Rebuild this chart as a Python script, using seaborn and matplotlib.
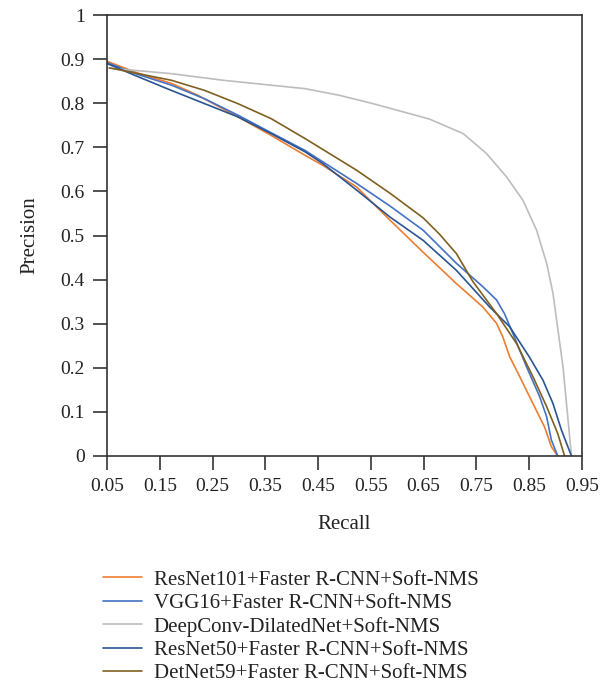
import matplotlib
matplotlib.use("Agg")
import matplotlib.pyplot as plt
import numpy as np
import pandas as pd
import seaborn as sns

# Precision-Recall-Kurven
models = [
    "ResNet101+Faster R-CNN+Soft-NMS",
    "VGG16+Faster R-CNN+Soft-NMS",
    "DeepConv-DilatedNet+Soft-NMS",
    "ResNet50+Faster R-CNN+Soft-NMS",
    "DetNet59+Faster R-CNN+Soft-NMS",
]
colors = ["#ED7D31", "#4472C4", "#BDBDBD", "#2B5592", "#7F6020"]

resnet101_recall = [0.05, 0.109, 0.172, 0.222, 0.298, 0.361, 0.425, 0.459, 0.523, 0.586,
                    0.649, 0.712, 0.762, 0.788, 0.80, 0.813, 0.832, 0.857, 0.879, 0.892, 0.904]
resnet101_prec = [0.895, 0.868, 0.845, 0.818, 0.769, 0.727, 0.682, 0.659, 0.610, 0.535,
                  0.462, 0.391, 0.338, 0.301, 0.27, 0.225, 0.18, 0.119, 0.066, 0.021, 0.0]

vgg16_recall = [0.05, 0.109, 0.172, 0.235, 0.298, 0.361, 0.425, 0.523, 0.586, 0.649, 0.712,
                0.762, 0.788, 0.803, 0.819, 0.845, 0.87, 0.883, 0.892, 0.904]
vgg16_prec = [0.892, 0.865, 0.841, 0.81, 0.773, 0.733, 0.693, 0.618, 0.567, 0.512, 0.437,
              0.384, 0.354, 0.323, 0.278, 0.202, 0.134, 0.089, 0.036, 0.0]

deepconv_recall = [0.05, 0.172, 0.27, 0.425, 0.49, 0.554, 0.661, 0.725, 0.769, 0.807, 0.838,
                   0.864, 0.883, 0.895, 0.901, 0.914, 0.923, 0.93]
deepconv_prec = [0.88, 0.867, 0.852, 0.833, 0.818, 0.799, 0.764, 0.731, 0.686, 0.633, 0.58,
                 0.512, 0.437, 0.369, 0.316, 0.202, 0.089, 0.0]

resnet50_recall = [0.05, 0.109, 0.172, 0.235, 0.298, 0.361, 0.425, 0.459, 0.523, 0.586,
                   0.649, 0.712, 0.775, 0.813, 0.85, 0.876, 0.895, 0.911, 0.93]
resnet50_prec = [0.89, 0.86, 0.829, 0.799, 0.769, 0.731, 0.69, 0.663, 0.603, 0.542,
                 0.489, 0.421, 0.338, 0.293, 0.225, 0.172, 0.119, 0.059, 0.0]

detnet59_recall = [0.055, 0.109, 0.172, 0.235, 0.298, 0.361, 0.425, 0.523, 0.586, 0.649,
                   0.68, 0.712, 0.743, 0.788, 0.826, 0.857, 0.883, 0.904, 0.917]
detnet59_prec = [0.88, 0.867, 0.852, 0.829, 0.799, 0.765, 0.72, 0.648, 0.596, 0.54,
                 0.503, 0.459, 0.396, 0.323, 0.255, 0.18, 0.112, 0.051, 0.0]

recalls = [resnet101_recall, vgg16_recall, deepconv_recall, resnet50_recall, detnet59_recall]
precisions = [resnet101_prec, vgg16_prec, deepconv_prec, resnet50_prec, detnet59_prec]

df = pd.concat(
    [pd.DataFrame({"Recall": r, "Precision": p, "Modell": m})
     for r, p, m in zip(recalls, precisions, models)],
    ignore_index=True,
)

sns.set_style("ticks")
plt.rcParams["font.family"] = ["Liberation Serif", "DejaVu Serif"]

fig = plt.figure(figsize=(6.12, 6.91), dpi=100)
ax = fig.add_axes([107 / 612, 1 - 456 / 691, 475 / 612, 441 / 691])

sns.lineplot(
    data=df, x="Recall", y="Precision", hue="Modell", hue_order=models,
    palette=colors, sort=False, estimator=None, linewidth=1.2, ax=ax, legend=True,
)

xticks = np.arange(0.05, 0.951, 0.1)
ax.set_xlim(0.05, 0.95)
ax.set_ylim(0, 1)
ax.set_xticks(xticks)
ax.set_xticklabels([f"{v:.2f}" for v in xticks])
ax.set_yticks(np.arange(0, 1.01, 0.1))
ax.set_yticklabels(["0"] + [f"{v:.1f}" for v in np.arange(0.1, 0.95, 0.1)] + ["1"])
ax.tick_params(direction="out", length=10, width=1.2, colors="#333333",
               labelsize=14, labelcolor="#222222", pad=6)
for s in ax.spines.values():
    s.set_color("#333333")
    s.set_linewidth(1.2)
ax.set_xlabel("Recall", fontsize=15, color="#222222", labelpad=14)
ax.set_ylabel("Precision", fontsize=15, color="#222222", labelpad=15)

handles, labels = ax.get_legend_handles_labels()
ax.get_legend().remove()
fig.legend(
    handles, labels, loc="upper left", bbox_to_anchor=(103 / 612, 1 - 570 / 691),
    frameon=False, fontsize=15, handlelength=1.85, handletextpad=0.58,
    labelspacing=0.18, borderpad=0, borderaxespad=0, labelcolor="#222222",
)

plt.savefig("out.png", dpi=100)
plt.close()
